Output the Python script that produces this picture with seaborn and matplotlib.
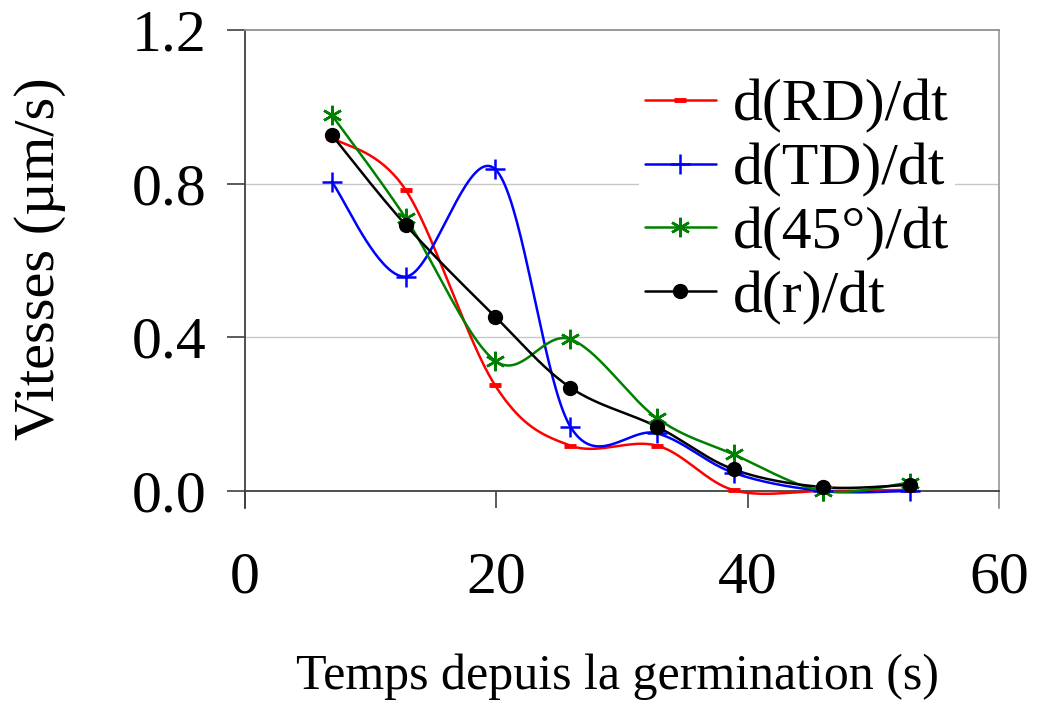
import numpy as np
import pandas as pd
import matplotlib
matplotlib.use("Agg")
import matplotlib.pyplot as plt
from matplotlib.lines import Line2D
from matplotlib.ticker import FormatStrFormatter
import seaborn as sns

# ---- data ----
temps = [6.9, 12.8, 19.9, 25.9, 32.8, 38.9, 46.0, 52.9]
v_rd = [0.92, 0.783, 0.275, 0.118, 0.118, 0.002, 0.0, 0.003]
v_td = [0.805, 0.558, 0.838, 0.167, 0.15, 0.047, 0.0, 0.0]
v_45 = [0.979, 0.71, 0.339, 0.395, 0.189, 0.095, 0.0, 0.022]
v_r = [0.927, 0.692, 0.454, 0.269, 0.167, 0.056, 0.01, 0.016]
labels = ["d(RD)/dt", "d(TD)/dt", "d(45°)/dt", "d(r)/dt"]
x_ticks = [0, 20, 40, 60]
y_ticks = [0.0, 0.4, 0.8, 1.2]
x_title = "Temps depuis la germination (s)"
y_title = "Vitesses (µm/s)"

series = [v_rd, v_td, v_45, v_r]
colors = ["#FF0000", "#0000FF", "#008000", "#000000"]
markers = ["_", "+", (6, 2, 0), "o"]
msizes = [9, 14, 14, 10]
mews = [3.5, 1.8, 1.8, 1.0]


def excel_smooth(x, y, n=40):
    """Excel-like smoothed line (cubic Bezier through each data point)."""
    pts = np.column_stack([x, y]).astype(float)
    out = []
    for i in range(len(pts) - 1):
        p0 = pts[i - 1] if i > 0 else pts[i]
        p1, p2 = pts[i], pts[i + 1]
        p3 = pts[i + 2] if i + 2 < len(pts) else pts[i + 1]
        c1 = p1 + (p2 - p0) / 6.0
        c2 = p2 - (p3 - p1) / 6.0
        t = np.linspace(0, 1, n)[:, None]
        seg = (1 - t) ** 3 * p1 + 3 * (1 - t) ** 2 * t * c1 + 3 * (1 - t) * t ** 2 * c2 + t ** 3 * p2
        out.append(seg if i == 0 else seg[1:])
    return np.vstack(out)


sns.set_style("white")
plt.rcParams["font.family"] = ["Liberation Serif", "DejaVu Serif"]
plt.rcParams["text.color"] = "black"
plt.rcParams["axes.labelcolor"] = "black"
plt.rcParams["xtick.color"] = "black"
plt.rcParams["ytick.color"] = "black"

fig = plt.figure(figsize=(10.39, 7.07), dpi=100)
ax = fig.add_axes([245 / 1039, 1 - 508 / 707, (999 - 245) / 1039, (508 - 30) / 707])

for vals, col, mk, ms, mew, lab in zip(series, colors, markers, msizes, mews, labels):
    curve = excel_smooth(temps, vals)
    df_c = pd.DataFrame({"x": curve[:, 0], "y": curve[:, 1]})
    sns.lineplot(data=df_c, x="x", y="y", sort=False, estimator=None, color=col,
                 lw=1.8, ax=ax, zorder=3)
    ax.plot(temps, vals, linestyle="none", marker=mk, markersize=ms, mew=mew,
            color=col, markeredgecolor=col, zorder=4)

ax.set_xlim(0, 60)
ax.set_ylim(-0.0443, 1.2)
ax.set_xticks(x_ticks)
ax.set_yticks(y_ticks)
ax.yaxis.set_major_formatter(FormatStrFormatter("%.1f"))

# gridlines
for yv in y_ticks[1:3]:
    ax.axhline(yv, color="#c8c8c8", lw=1.0, zorder=1)

# spines
ax.spines["bottom"].set_position(("data", 0))
ax.spines["bottom"].set_color("#404040")
ax.spines["left"].set_color("#404040")
ax.spines["top"].set_color("#909090")
ax.spines["right"].set_color("#a0a0a0")
for s in ax.spines.values():
    s.set_linewidth(1.3)
    s.set_zorder(2)

ax.tick_params(axis="x", direction="out", length=12.5, width=1.2, color="#404040",
               labelcolor="black", pad=31, labelsize=43, bottom=True)
ax.tick_params(axis="y", direction="out", length=13, width=1.2, color="#404040",
               labelcolor="black", pad=15, labelsize=43, left=True)

ax.set_xlabel(x_title, fontsize=36, color="black")
ax.set_ylabel(y_title, fontsize=42, color="black")
ax.xaxis.set_label_coords(0.494, -0.305)
ax.yaxis.set_label_coords(-0.237, 0.522)

handles = [Line2D([], [], color=c, lw=1.8, marker=m, markersize=ms, mew=mw, markeredgecolor=c)
           for c, m, ms, mw in zip(colors, markers, msizes, mews)]
leg = ax.legend(handles, labels, loc="upper left", bbox_to_anchor=(0.522, 0.91),
                borderaxespad=0, borderpad=0.1, handlelength=1.2, handletextpad=0.28,
                labelspacing=0.15, fontsize=43, frameon=True, fancybox=False,
                framealpha=1, facecolor="white", edgecolor="none")
for t in leg.get_texts():
    t.set_color("black")
leg.set_zorder(5)

fig.savefig("out.png", dpi=100)
